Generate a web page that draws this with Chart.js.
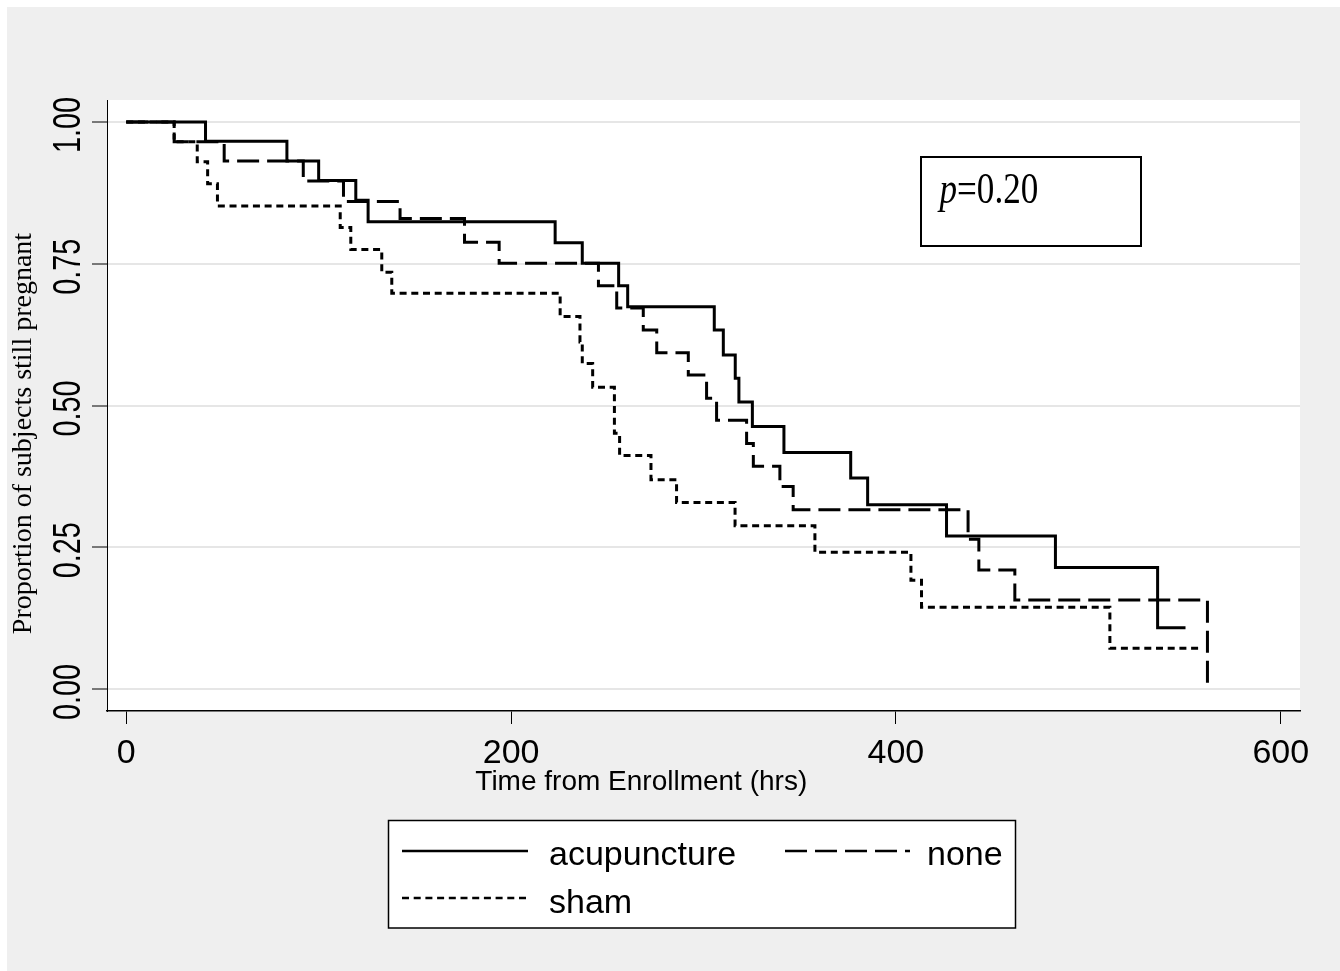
<!DOCTYPE html>
<html>
<head>
<meta charset="utf-8">
<script src="https://cdn.jsdelivr.net/npm/chart.js@4.4.1/dist/chart.umd.min.js"></script>
<style>
  html, body { margin: 0; padding: 0; background: #fff; }
  #wrap { width: 1340px; height: 971px; position: relative; }
</style>
</head>
<body>
<div id="wrap"><canvas id="km"></canvas></div>
<script>
// Kaplan-Meier steps: time (hrs) of each drop, survival after it
const acuTime = [0, 41.2, 83.5, 100, 119.3, 125.7, 222.9, 237, 255.9, 260.6, 305.6, 310.3, 316.5, 318.4, 325.4, 341.8, 376.5, 385.3, 426.3, 482.9, 536, 550.5]
const acuSurv = [1, 0.966, 0.931, 0.897, 0.862, 0.824, 0.787, 0.751, 0.711, 0.674, 0.633, 0.589, 0.548, 0.506, 0.463, 0.417, 0.372, 0.325, 0.270, 0.2145, 0.108, 0.108]

const noneTime = [0, 24.9, 50.9, 92, 112.9, 142.3, 175.8, 193.8, 245.4, 254.9, 268.7, 275.7, 292.1, 301.6, 306.8, 322.4, 325.9, 339.7, 346.6, 437.5, 443.1, 461.8, 561.9]
const noneSurv = [1, 0.965, 0.931, 0.896, 0.86, 0.83, 0.788, 0.751, 0.711, 0.672, 0.633, 0.593, 0.554, 0.513, 0.474, 0.433, 0.393, 0.357, 0.316, 0.264, 0.21, 0.157, 0.01]

const shamTime = [0, 24.9, 36.9, 42.3, 47.4, 111.2, 116.7, 132.8, 138, 225.5, 235.8, 237, 242.4, 253.7, 256.4, 272.7, 286, 316.4, 357.9, 407.8, 413.3, 511.2, 557.9]
const shamSurv = [1, 0.965, 0.93, 0.891, 0.852, 0.814, 0.775, 0.735, 0.698, 0.657, 0.612, 0.574, 0.532, 0.451, 0.412, 0.369, 0.329, 0.288, 0.241, 0.192, 0.144, 0.0717, 0.0717]

const xTicks = [0, 200, 400, 600]
const yTicks = [0, 0.25, 0.5, 0.75, 1]
const yTickLabels = ['0.00', '0.25', '0.50', '0.75', '1.00']
const legendRows = [['acupuncture', 'none'], ['sham']]
const pLabel = ['p', '=0.20']

const SANS = '"Liberation Sans", Arial, sans-serif'
const SERIF = '"Liberation Serif", "Times New Roman", serif'
const nb = n => '\u00a0'.repeat(n)

function toPoints(times, surv) {
  return times.map((t, i) => ({ x: t, y: surv[i] }))
}

function makeSet(label, times, surv, dash) {
  return {
    label: label,
    data: toPoints(times, surv),
    borderColor: '#000',
    backgroundColor: '#000',
    borderWidth: 3,
    borderDash: dash,
    borderCapStyle: 'butt',
    borderJoinStyle: 'miter',
    stepped: 'before',
    pointRadius: 0,
    fill: false
  }
}

// grey page, white plot region
const framePlugin = {
  id: 'frame',
  beforeDraw(chart) {
    const ctx = chart.ctx
    const a = chart.chartArea
    ctx.save()
    ctx.fillStyle = '#ffffff'
    ctx.fillRect(0, 0, chart.width, chart.height)
    ctx.fillStyle = '#efefef'
    ctx.fillRect(7, 7, chart.width - 7, chart.height - 7)
    ctx.fillStyle = '#ffffff'
    ctx.fillRect(a.left, a.top, a.right - a.left, a.bottom - a.top)
    ctx.restore()
  }
}

// rotated y tick labels, p-value box, boxed legend
const extrasPlugin = {
  id: 'extras',
  afterDraw(chart) {
    const ctx = chart.ctx
    const ys = chart.scales.y
    ctx.save()
    ctx.fillStyle = '#000'
    ctx.font = '38px ' + SANS
    ctx.textAlign = 'center'
    ctx.textBaseline = 'middle'
    yTicks.forEach((v, i) => {
      ctx.save()
      ctx.translate(70, ys.getPixelForValue(v) + 3)
      ctx.rotate(-Math.PI / 2)
      ctx.scale(0.76, 1)
      ctx.fillText(yTickLabels[i], 0, 0)
      ctx.restore()
    })
    ctx.restore()

    // p box
    ctx.save()
    ctx.fillStyle = '#fff'
    ctx.fillRect(921, 157, 220, 89)
    ctx.strokeStyle = '#000'
    ctx.lineWidth = 2
    ctx.strokeRect(921, 157, 220, 89)
    ctx.translate(939.5, 203)
    ctx.scale(0.78, 1)
    ctx.fillStyle = '#000'
    ctx.textBaseline = 'alphabetic'
    ctx.font = 'italic 45px ' + SERIF
    ctx.fillText(pLabel[0], 0, 0)
    const wp = ctx.measureText(pLabel[0]).width
    ctx.font = '45px ' + SERIF
    ctx.fillText(pLabel[1], wp, 0)
    ctx.restore()

    // legend
    ctx.save()
    ctx.fillStyle = '#fff'
    ctx.fillRect(388.5, 820.5, 627, 107.5)
    ctx.strokeStyle = '#000'
    ctx.lineWidth = 1.5
    ctx.strokeRect(388.5, 820.5, 627, 107.5)
    const cols = [{ x0: 402, x1: 528, tx: 549 }, { x0: 785, x1: 910, tx: 927 }]
    const rows = [{ ly: 851, ty: 865 }, { ly: 898, ty: 913 }]
    ctx.font = '34px ' + SANS
    ctx.textBaseline = 'alphabetic'
    legendRows.forEach((row, r) => {
      row.forEach((name, c) => {
        const ds = chart.data.datasets.find(d => d.label === name)
        ctx.beginPath()
        ctx.setLineDash(ds.borderDash)
        ctx.lineWidth = 2.5
        ctx.strokeStyle = ds.borderColor
        ctx.moveTo(cols[c].x0, rows[r].ly)
        ctx.lineTo(cols[c].x1, rows[r].ly)
        ctx.stroke()
        ctx.setLineDash([])
        ctx.fillStyle = '#000'
        ctx.fillText(name, cols[c].tx, rows[r].ty)
      })
    })
    ctx.restore()
  }
}

const config = {
  type: 'line',
  data: {
    datasets: [
      makeSet('acupuncture', acuTime, acuSurv, []),
      makeSet('none', noneTime, noneSurv, [22, 8]),
      makeSet('sham', shamTime, shamSurv, [7, 4.7])
    ]
  },
  options: {
    responsive: true,
    maintainAspectRatio: false,
    animation: false,
    layout: { padding: { top: 100, right: 40, bottom: 170, left: 7 } },
    plugins: { legend: { display: false }, tooltip: { enabled: false } },
    scales: {
      x: {
        type: 'linear',
        min: -10,
        max: 610,
        afterBuildTicks: s => { s.ticks = xTicks.map(v => ({ value: v })) },
        afterFit: s => { s.height = 90 },
        ticks: { color: '#000', font: { family: SANS, size: 34 }, padding: 9, maxRotation: 0, autoSkip: false },
        grid: { drawOnChartArea: false, drawTicks: true, tickLength: 13, tickColor: '#000', tickWidth: 1 },
        border: { color: '#000', width: 1.5 },
        title: {
          display: true,
          text: 'Time from Enrollment (hrs)' + nb(16),
          color: '#000',
          font: { family: SANS, size: 28 },
          padding: { top: 0, bottom: 2 }
        }
      },
      y: {
        type: 'linear',
        min: -0.0388,
        max: 1.0388,
        afterBuildTicks: s => { s.ticks = yTicks.map(v => ({ value: v })) },
        afterFit: s => { s.width = 100 },
        ticks: { display: false },
        grid: { color: '#e6e6e6', lineWidth: 2, drawTicks: true, tickLength: 15, tickColor: '#000', tickWidth: 1 },
        border: { color: '#000', width: 1 },
        title: {
          display: true,
          text: 'Proportion of subjects still pregnant' + nb(8),
          color: '#000',
          font: { family: SERIF, size: 28 },
          padding: { top: 0, bottom: 0 }
        }
      }
    }
  },
  plugins: [framePlugin, extrasPlugin]
}

const myChart = new Chart(document.getElementById('km'), config)
</script>
</body>
</html>
